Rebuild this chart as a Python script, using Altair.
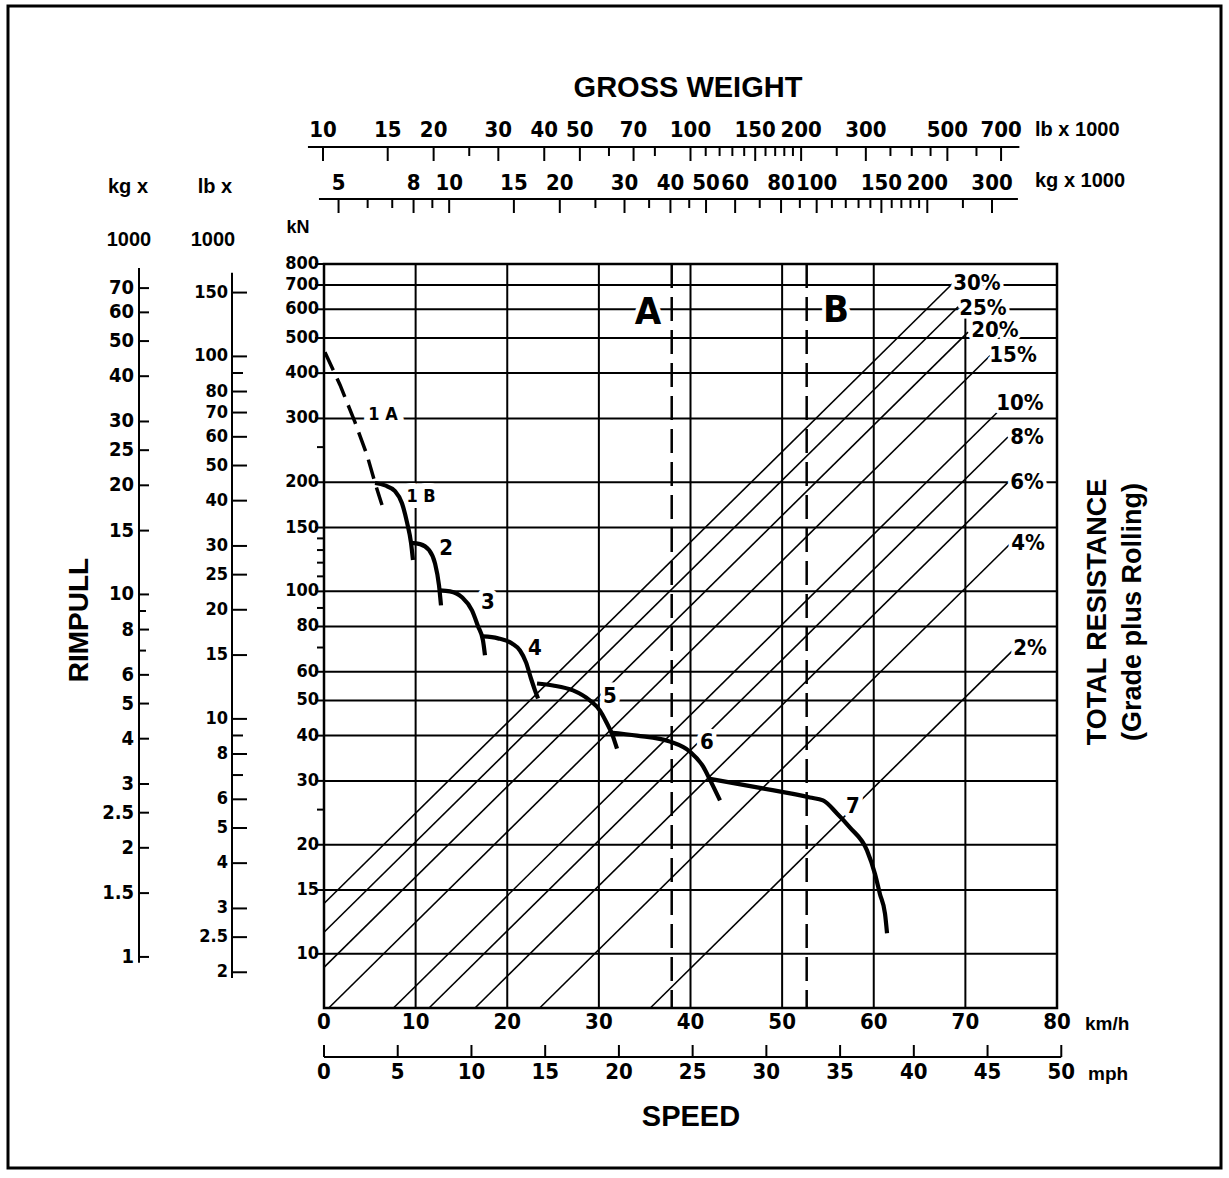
import altair as alt
import pandas as pd

# ---------------- unit conversions ----------------
KMH_PER_MPH = 1.609344
KN_PER_KLB = 4.44822
KN_PER_TONNE = 9.80665
LB_PER_KG = 2.20462
# rimpull (kN) needed per 1000 lb of gross weight per 1 % of total resistance
KN_PER_KLB_PER_PCT = 0.0456

# ---------------- axes data ----------------
SPEED_GRID = [10, 20, 30, 40, 50, 60]
SPEED_GRID_SHORT = [70]
SPEED_GRID_SHORT_TOP_KN = 575
SPEED_LABELS = [0, 10, 20, 30, 40, 50, 60, 70, 80]
MPH_TICKS = [0, 5, 10, 15, 20, 25, 30, 35, 40, 45, 50]
KN_MAJOR = [800, 700, 600, 500, 400, 300, 200, 150, 100, 80, 60, 50, 40, 30, 20, 15, 10]
KN_MINOR = [250, 140, 130, 120, 110, 90, 70, 25]
LB_RIM_MAJOR = [150, 100, 80, 70, 60, 50, 40, 30, 25, 20, 15, 10, 8, 6, 5, 4, 3, 2.5, 2]
LB_RIM_MINOR = [90, 9, 7]
LB_RIM_RANGE = [1.93, 170]
KG_RIM_MAJOR = [70, 60, 50, 40, 30, 25, 20, 15, 10, 8, 6, 5, 4, 3, 2.5, 2, 1.5, 1]
KG_RIM_MINOR = [9, 7]
KG_RIM_RANGE = [0.963, 79.5]
GW_LB_MAJOR = [10, 15, 20, 30, 40, 50, 70, 100, 150, 200, 300, 500, 700]
GW_LB_MINOR = [25, 60, 80, 110, 120, 130, 140, 160, 170, 180, 190, 250, 350, 400, 450, 600]
GW_LB_RANGE = [9.1, 785]
GW_KG_MAJOR = [5, 8, 10, 15, 20, 30, 40, 50, 60, 80, 100, 150, 200, 300]
GW_KG_MINOR = [6, 7, 9, 25, 35, 45, 70, 90, 110, 120, 130, 140, 160, 170, 180, 190, 250]
GW_KG_RANGE_LB = [9.75, 778]

SPEED_DOMAIN = [0, 80]
KN_DOMAIN = [7.09, 800]
WEIGHT_DOMAIN = [10.063, 993.8]

# ---------------- total resistance lines ----------------
GRADES = [30, 25, 20, 15, 10, 8, 6, 4, 2]
GRADE_END_WEIGHT = [515, 535, 569, 653, 682, 731, 740, 750, 750]
GRADE_LABEL_SPEED = [71.27, 71.92, 73.23, 75.2, 75.96, 76.73, 76.73, 76.83, 77.05]
GRADE_LABEL_KN = [709, 605, 526, 449, 331, 266, 200, 136, 69.6]

# ---------------- rimpull curves ----------------
GEAR_1A_SPEED = [0.1, 1.75, 3.38, 4.69, 5.57, 6.33]
GEAR_1A_KN = [457, 371, 293, 238, 199, 173]
GEAR_1B_SPEED = [5.57, 6.66, 7.75, 8.51, 9.06, 9.50, 9.71]
GEAR_1B_KN = [199, 196, 189, 175, 155, 136, 122]
GEAR_2_SPEED = [9.50, 10.48, 11.46, 12.11, 12.55, 12.77]
GEAR_2_KN = [136, 135, 130, 119.5, 104, 91.5]
GEAR_3_SPEED = [12.66, 13.75, 15.06, 16.15, 16.81, 17.35, 17.57]
GEAR_3_KN = [100.6, 100, 96.3, 88.6, 80.1, 73.2, 66.6]
GEAR_4_SPEED = [17.35, 18.99, 20.52, 21.39, 22.05, 22.59, 23.03, 23.36]
GEAR_4_KN = [75.1, 74.2, 71.8, 68.7, 63.7, 57.5, 53.3, 50.6]
GEAR_5_SPEED = [23.25, 24.99, 27.18, 29.03, 30.12, 30.89, 31.43, 31.98]
GEAR_5_KN = [55.7, 55.0, 53.3, 50.0, 46.9, 43.2, 40.5, 36.8]
GEAR_6_SPEED = [31.21, 34.16, 37.76, 39.95, 41.37, 42.13, 43.22]
GEAR_6_KN = [40.8, 40.0, 38.5, 36.1, 32.9, 30.2, 26.5]
GEAR_7_SPEED = [42.13, 47.58, 53.04, 54.46, 55.99, 57.41, 59.26, 60.14, 60.68, 61.23, 61.45]
GEAR_7_KN = [30.4, 28.7, 27.0, 26.5, 24.4, 22.3, 19.3, 16.6, 14.6, 12.9, 11.4]

GEAR_LABELS = ["1 A", "1 B", "2", "3", "4", "5", "6", "7"]
GEAR_LABEL_SPEED = [6.44, 10.59, 13.32, 17.9, 23.03, 31.21, 41.8, 57.73]
GEAR_LABEL_KN = [306, 181.8, 131.5, 93.2, 70.0, 51.6, 38.3, 25.6]

RANGE_NAMES = ["A", "B"]
RANGE_SPEED = [37.95, 52.68]
RANGE_LABEL_SPEED = [35.36, 55.88]
RANGE_LABEL_KN = [586, 594]

# ---------------- helpers ----------------
NARROW = "Liberation Sans Narrow, DejaVu Sans Condensed, Liberation Sans, sans-serif"
WIDE = "Liberation Sans, Arial, Helvetica, sans-serif"

sx = alt.Scale(domain=SPEED_DOMAIN, nice=False, zero=False)
sy = alt.Scale(type="log", domain=KN_DOMAIN, nice=False)
sw = alt.Scale(type="log", domain=WEIGHT_DOMAIN, nice=False)


def X(f):
    return alt.X(f, type="quantitative", scale=sx, axis=None)


def Y(f):
    return alt.Y(f, type="quantitative", scale=sy, axis=None)


def XW(f):
    return alt.X(f, type="quantitative", scale=sw, axis=None)


ONE = pd.DataFrame({"a": [0]})


def fixed_text(text, x, y, size, font=WIDE, angle=0, align="center"):
    props = dict(text=text, font=font, fontSize=size, fontWeight="bold",
                 color="black", align=align, baseline="middle")
    if angle:
        props["angle"] = angle
    return alt.Chart(ONE).mark_text(**props).encode(x=alt.value(x), y=alt.value(y))


layers = []

# ---------------- grid ----------------
layers.append(alt.Chart(pd.DataFrame({"s": SPEED_GRID})).mark_rule(color="black", strokeWidth=2).encode(x=X("s")))
layers.append(alt.Chart(pd.DataFrame({"s": SPEED_GRID_SHORT, "top": [SPEED_GRID_SHORT_TOP_KN], "bot": [KN_DOMAIN[0]]}))
              .mark_rule(color="black", strokeWidth=2).encode(x=X("s"), y=Y("top"), y2="bot"))
layers.append(alt.Chart(pd.DataFrame({"kN": KN_MAJOR})).mark_rule(color="black", strokeWidth=2).encode(y=Y("kN")))

# kN axis ticks / labels
layers.append(alt.Chart(pd.DataFrame({"kN": KN_MAJOR})).mark_rule(color="black", strokeWidth=2)
              .encode(y=Y("kN"), x=alt.value(-9), x2=alt.value(0)))
layers.append(alt.Chart(pd.DataFrame({"kN": KN_MINOR})).mark_rule(color="black", strokeWidth=2)
              .encode(y=Y("kN"), x=alt.value(-7), x2=alt.value(0)))
layers.append(alt.Chart(pd.DataFrame({"kN": KN_MAJOR, "t": [str(v) for v in KN_MAJOR]}))
              .mark_text(font=NARROW, fontSize=18, fontWeight="bold", align="right", baseline="middle", color="black")
              .encode(y=Y("kN"), x=alt.value(-5), text="t:N"))

# ---------------- total resistance diagonals (gross-weight scale) ----------------
rows = []
for g, wend in zip(GRADES, GRADE_END_WEIGHT):
    k = KN_PER_KLB_PER_PCT * g
    w0 = max(WEIGHT_DOMAIN[0], KN_DOMAIN[0] / k)
    rows.append({"grade": g, "W": w0, "kN": w0 * k})
    rows.append({"grade": g, "W": wend, "kN": wend * k})
layers.append(alt.Chart(pd.DataFrame(rows)).mark_line(color="black", strokeWidth=1.6)
              .encode(x=XW("W"), y=Y("kN"), detail="grade:N"))

# A / B dashed range lines
layers.append(alt.Chart(pd.DataFrame({"s": RANGE_SPEED})).mark_rule(color="black", strokeWidth=2.5, strokeDash=[24, 9])
              .encode(x=X("s")))

# ---------------- labels with white halos ----------------
gear_lab = pd.DataFrame({"label": GEAR_LABELS, "s": GEAR_LABEL_SPEED, "kN": GEAR_LABEL_KN,
                         "size": [18, 18, 22, 22, 22, 22, 22, 22]})
pct_lab = pd.DataFrame({"label": [f"{g}%" for g in GRADES], "s": GRADE_LABEL_SPEED, "kN": GRADE_LABEL_KN})
rng_lab = pd.DataFrame({"label": RANGE_NAMES, "s": RANGE_LABEL_SPEED, "kN": RANGE_LABEL_KN})


def halo(df, size, sw_=8):
    return alt.Chart(df).mark_text(font=NARROW, fontSize=size, fontWeight="bold", fill="white", stroke="white",
                                   strokeWidth=sw_, strokeJoin="round", align="center", baseline="middle"
                                   ).encode(x=X("s"), y=Y("kN"), text="label:N")


def label(df, size):
    return alt.Chart(df).mark_text(font=NARROW, fontSize=size, fontWeight="bold", color="black",
                                   align="center", baseline="middle"
                                   ).encode(x=X("s"), y=Y("kN"), text="label:N")


small_g = gear_lab[gear_lab["size"] == 18]
big_g = gear_lab[gear_lab["size"] == 22]
layers += [halo(small_g, 18, 12), halo(big_g, 22, 9), halo(pct_lab, 22, 7), halo(rng_lab, 38, 8)]

# ---------------- rimpull curves ----------------
curve_rows = []
for name, ss, kk in [("1B", GEAR_1B_SPEED, GEAR_1B_KN), ("2", GEAR_2_SPEED, GEAR_2_KN),
                     ("3", GEAR_3_SPEED, GEAR_3_KN), ("4", GEAR_4_SPEED, GEAR_4_KN),
                     ("5", GEAR_5_SPEED, GEAR_5_KN), ("6", GEAR_6_SPEED, GEAR_6_KN),
                     ("7", GEAR_7_SPEED, GEAR_7_KN)]:
    for a, b in zip(ss, kk):
        curve_rows.append({"gear": name, "s": a, "kN": b})
layers.append(alt.Chart(pd.DataFrame(curve_rows)).mark_line(color="black", strokeWidth=4.2, interpolate="monotone")
              .encode(x=X("s"), y=Y("kN"), detail="gear:N"))
layers.append(alt.Chart(pd.DataFrame({"s": GEAR_1A_SPEED, "kN": GEAR_1A_KN}))
              .mark_line(color="black", strokeWidth=3.5, strokeDash=[20, 9])
              .encode(x=X("s"), y=Y("kN")))

layers += [label(small_g, 18), label(big_g, 22), label(pct_lab, 22), label(rng_lab, 38)]

# ---------------- left rimpull scales (lb, kg) ----------------
lbr = pd.DataFrame({"kN": [v * KN_PER_KLB for v in LB_RIM_MAJOR], "t": [str(v) for v in LB_RIM_MAJOR]})
lbm = pd.DataFrame({"kN": [v * KN_PER_KLB for v in LB_RIM_MINOR]})
layers.append(alt.Chart(pd.DataFrame({"a": [LB_RIM_RANGE[0] * KN_PER_KLB], "b": [LB_RIM_RANGE[1] * KN_PER_KLB]}))
              .mark_rule(color="black", strokeWidth=2).encode(y=Y("a"), y2="b", x=alt.value(-92)))
layers.append(alt.Chart(lbr).mark_rule(color="black", strokeWidth=2).encode(y=Y("kN"), x=alt.value(-92), x2=alt.value(-77)))
layers.append(alt.Chart(lbm).mark_rule(color="black", strokeWidth=2).encode(y=Y("kN"), x=alt.value(-92), x2=alt.value(-81)))
layers.append(alt.Chart(lbr).mark_text(font=NARROW, fontSize=18, fontWeight="bold", align="right", baseline="middle", color="black")
              .encode(y=Y("kN"), x=alt.value(-96), text="t:N"))

kgr = pd.DataFrame({"kN": [v * KN_PER_TONNE for v in KG_RIM_MAJOR], "t": [str(v) for v in KG_RIM_MAJOR]})
kgm = pd.DataFrame({"kN": [v * KN_PER_TONNE for v in KG_RIM_MINOR]})
layers.append(alt.Chart(pd.DataFrame({"a": [KG_RIM_RANGE[0] * KN_PER_TONNE], "b": [KG_RIM_RANGE[1] * KN_PER_TONNE]}))
              .mark_rule(color="black", strokeWidth=2).encode(y=Y("a"), y2="b", x=alt.value(-185)))
layers.append(alt.Chart(kgr).mark_rule(color="black", strokeWidth=2).encode(y=Y("kN"), x=alt.value(-185), x2=alt.value(-175)))
layers.append(alt.Chart(kgm).mark_rule(color="black", strokeWidth=2).encode(y=Y("kN"), x=alt.value(-185), x2=alt.value(-178)))
layers.append(alt.Chart(kgr).mark_text(font=NARROW, fontSize=20, fontWeight="bold", align="right", baseline="middle", color="black")
              .encode(y=Y("kN"), x=alt.value(-190), text="t:N"))

# ---------------- top gross weight scales ----------------
def top_scale(major_lb, major_txt, minor_lb, rng, yline, ylab):
    out = []
    out.append(alt.Chart(pd.DataFrame({"a": [rng[0]], "b": [rng[1]]})).mark_rule(color="black", strokeWidth=2)
               .encode(x=XW("a"), x2="b", y=alt.value(yline)))
    out.append(alt.Chart(pd.DataFrame({"W": major_lb})).mark_rule(color="black", strokeWidth=2)
               .encode(x=XW("W"), y=alt.value(yline), y2=alt.value(yline + 14)))
    out.append(alt.Chart(pd.DataFrame({"W": minor_lb})).mark_rule(color="black", strokeWidth=2)
               .encode(x=XW("W"), y=alt.value(yline), y2=alt.value(yline + 9)))
    out.append(alt.Chart(pd.DataFrame({"W": major_lb, "t": major_txt}))
               .mark_text(font=NARROW, fontSize=22, fontWeight="bold", align="center", baseline="middle", color="black")
               .encode(x=XW("W"), y=alt.value(ylab), text="t:N"))
    return out


layers += top_scale(GW_LB_MAJOR, [str(v) for v in GW_LB_MAJOR], GW_LB_MINOR, GW_LB_RANGE, -117, -134)
layers += top_scale([v * LB_PER_KG for v in GW_KG_MAJOR], [str(v) for v in GW_KG_MAJOR],
                    [v * LB_PER_KG for v in GW_KG_MINOR], GW_KG_RANGE_LB, -65, -81)

# ---------------- bottom speed scales ----------------
layers.append(alt.Chart(pd.DataFrame({"s": SPEED_LABELS, "t": [str(v) for v in SPEED_LABELS]}))
              .mark_text(font=NARROW, fontSize=22, fontWeight="bold", align="center", baseline="middle", color="black")
              .encode(x=X("s"), y=alt.value(758), text="t:N"))
mph = pd.DataFrame({"k": [m * KMH_PER_MPH for m in MPH_TICKS], "t": [str(m) for m in MPH_TICKS]})
layers.append(alt.Chart(pd.DataFrame({"a": [0.0], "b": [MPH_TICKS[-1] * KMH_PER_MPH]}))
              .mark_rule(color="black", strokeWidth=2).encode(x=X("a"), x2="b", y=alt.value(793)))
layers.append(alt.Chart(mph).mark_rule(color="black", strokeWidth=2)
              .encode(x=X("k"), y=alt.value(781), y2=alt.value(793)))
layers.append(alt.Chart(mph).mark_text(font=NARROW, fontSize=22, fontWeight="bold", align="center", baseline="middle", color="black")
              .encode(x=X("k"), y=alt.value(808), text="t:N"))

# ---------------- titles ----------------
layers += [
    fixed_text("GROSS WEIGHT", 364, -176, 29),
    fixed_text("SPEED", 367, 853, 29),
    fixed_text("RIMPULL", -244, 356, 28, angle=270),
    fixed_text("TOTAL RESISTANCE", 774, 348, 27, angle=270),
    fixed_text("(Grade plus Rolling)", 809, 348, 27, angle=270),
    fixed_text("lb x 1000", 711, -134, 20, align="left"),
    fixed_text("kg x 1000", 711, -83, 20, align="left"),
    fixed_text("km/h", 761, 760, 19, align="left"),
    fixed_text("mph", 764, 810, 19, align="left"),
    fixed_text("kg x", -196, -77, 20),
    fixed_text("1000", -195, -24, 20),
    fixed_text("lb x", -109, -77, 20),
    fixed_text("1000", -111, -24, 20),
    fixed_text("kN", -26, -36, 18),
]

# page border
layers.append(alt.Chart(ONE).mark_rect(fillOpacity=0, stroke="black", strokeWidth=3)
              .encode(x=alt.value(-316), x2=alt.value(897), y=alt.value(-258), y2=alt.value(904)))

chart = (
    alt.layer(*layers)
    .resolve_scale(x="independent")
    .properties(width=733, height=744,
                autosize=alt.AutoSizeParams(type="none"),
                padding={"left": 324, "top": 264, "right": 172, "bottom": 170},
                background="white")
    .configure_view(stroke="black", strokeWidth=2.5)
)

chart.save("out.html", embed_options={"renderer": "svg", "actions": False})
